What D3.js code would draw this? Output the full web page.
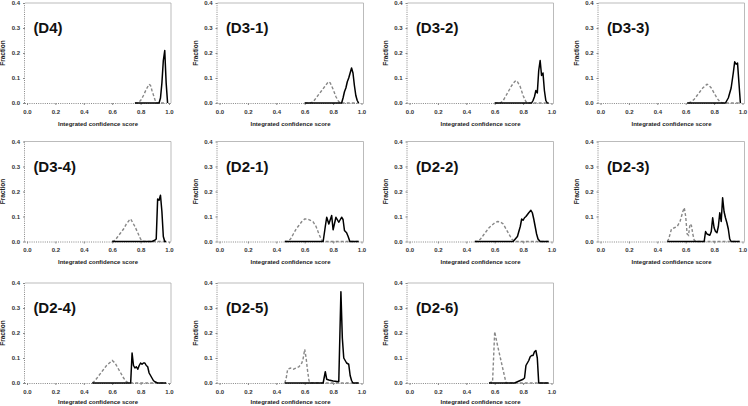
<!DOCTYPE html>
<html><head><meta charset="utf-8">
<script src="https://cdn.jsdelivr.net/npm/d3@7"></script>
<style>body{margin:0;background:#fff}svg{display:block}</style>
</head><body>
<svg id="c" width="748" height="406"></svg>
<script>
// ---- data ----
const panelNames = ["(D4)","(D3-1)","(D3-2)","(D3-3)","(D3-4)","(D2-1)","(D2-2)","(D2-3)","(D2-4)","(D2-5)","(D2-6)"];
const xTicks = [0.0,0.2,0.4,0.6,0.8,1.0];
const yTicks = [0.0,0.1,0.2,0.3,0.4];
const xTitle = "Integrated confidence score";
const yTitle = "Fraction";

const d4_dashed = [[0.76,0],[0.78,0],[0.80,0.01],[0.82,0.03],[0.84,0.055],[0.86,0.075],[0.87,0.07],[0.88,0.05],[0.90,0.015],[0.91,0],[0.98,0]];
const d4_solid  = [[0.76,0],[0.93,0],[0.94,0.02],[0.95,0.08],[0.96,0.17],[0.97,0.21],[0.98,0.08],[0.99,0]];

const d31_dashed = [[0.60,0],[0.64,0],[0.66,0.005],[0.68,0.02],[0.70,0.035],[0.72,0.05],[0.74,0.065],[0.76,0.08],[0.77,0.085],[0.78,0.08],[0.80,0.055],[0.82,0.025],[0.84,0.005],[0.86,0],[0.98,0]];
const d31_solid  = [[0.60,0],[0.86,0],[0.87,0.02],[0.88,0.045],[0.89,0.06],[0.90,0.085],[0.91,0.1],[0.92,0.12],[0.93,0.14],[0.94,0.12],[0.95,0.07],[0.96,0.03],[0.97,0.01],[0.98,0]];

const d32_dashed = [[0.60,0],[0.64,0],[0.66,0.01],[0.68,0.03],[0.70,0.05],[0.72,0.07],[0.74,0.085],[0.75,0.09],[0.76,0.085],[0.78,0.065],[0.80,0.03],[0.82,0.005],[0.84,0],[0.98,0]];
const d32_solid  = [[0.60,0],[0.86,0],[0.87,0.01],[0.88,0.025],[0.89,0.05],[0.90,0.04],[0.91,0.13],[0.92,0.17],[0.93,0.11],[0.94,0.12],[0.95,0.05],[0.96,0.01],[0.97,0],[0.98,0]];

const d33_dashed = [[0.62,0],[0.64,0.005],[0.66,0.015],[0.68,0.03],[0.70,0.045],[0.72,0.06],[0.74,0.07],[0.75,0.075],[0.76,0.073],[0.78,0.06],[0.80,0.04],[0.82,0.02],[0.84,0.005],[0.86,0],[0.98,0]];
const d33_solid  = [[0.61,0],[0.88,0],[0.90,0.02],[0.92,0.06],[0.935,0.12],[0.945,0.165],[0.955,0.155],[0.965,0.16],[0.975,0.08],[0.985,0]];

const d34_dashed = [[0.60,0],[0.62,0.005],[0.64,0.02],[0.66,0.035],[0.68,0.05],[0.70,0.07],[0.72,0.085],[0.73,0.09],[0.74,0.08],[0.76,0.06],[0.78,0.035],[0.80,0.01],[0.82,0],[0.98,0]];
const d34_solid  = [[0.60,0],[0.88,0],[0.90,0.005],[0.91,0.01],[0.92,0.17],[0.93,0.165],[0.94,0.185],[0.95,0.12],[0.96,0.02],[0.97,0],[0.98,0]];

const d21_dashed = [[0.46,0],[0.48,0],[0.50,0.01],[0.52,0.03],[0.54,0.05],[0.56,0.065],[0.58,0.08],[0.60,0.09],[0.62,0.09],[0.64,0.085],[0.66,0.078],[0.68,0.06],[0.70,0.03],[0.72,0.005],[0.74,0],[0.98,0]];
const d21_solid  = [[0.46,0],[0.73,0],[0.745,0.06],[0.755,0.097],[0.77,0.07],[0.79,0.104],[0.80,0.047],[0.82,0.097],[0.84,0.077],[0.86,0.097],[0.87,0.088],[0.88,0.044],[0.895,0.035],[0.906,0.02],[0.918,0],[0.98,0]];

const d22_dashed = [[0.46,0],[0.48,0],[0.50,0.01],[0.52,0.025],[0.54,0.04],[0.56,0.055],[0.58,0.065],[0.60,0.075],[0.62,0.08],[0.64,0.078],[0.66,0.07],[0.68,0.05],[0.70,0.03],[0.72,0.01],[0.74,0],[0.98,0]];
const d22_solid  = [[0.46,0],[0.73,0],[0.745,0.01],[0.76,0.02],[0.78,0.06],[0.79,0.09],[0.80,0.085],[0.81,0.095],[0.82,0.1],[0.84,0.115],[0.855,0.125],[0.865,0.115],[0.875,0.09],[0.885,0.06],[0.895,0.03],[0.905,0.01],[0.92,0],[0.98,0]];

const d23_dashed = [[0.47,0],[0.48,0.01],[0.49,0.03],[0.50,0.05],[0.52,0.055],[0.54,0.06],[0.56,0.08],[0.57,0.1],[0.58,0.12],[0.59,0.135],[0.60,0.1],[0.61,0.03],[0.62,0.025],[0.63,0.07],[0.64,0.065],[0.65,0.03],[0.66,0.005],[0.68,0],[0.98,0]];
const d23_solid  = [[0.47,0],[0.73,0],[0.74,0.04],[0.75,0.03],[0.77,0.025],[0.78,0.04],[0.79,0.095],[0.80,0.055],[0.81,0.04],[0.82,0.035],[0.83,0.06],[0.84,0.115],[0.85,0.08],[0.86,0.175],[0.87,0.12],[0.88,0.095],[0.89,0.075],[0.90,0.05],[0.91,0.01],[0.92,0],[0.98,0]];

const d24_dashed = [[0.46,0],[0.48,0.01],[0.50,0.025],[0.52,0.04],[0.54,0.055],[0.56,0.07],[0.58,0.08],[0.60,0.09],[0.62,0.08],[0.64,0.06],[0.66,0.04],[0.68,0.02],[0.70,0.005],[0.72,0],[0.98,0]];
const d24_solid  = [[0.46,0],[0.73,0],[0.74,0.12],[0.75,0.07],[0.76,0.06],[0.77,0.065],[0.78,0.055],[0.79,0.07],[0.80,0.08],[0.81,0.075],[0.82,0.08],[0.83,0.08],[0.84,0.07],[0.85,0.065],[0.86,0.04],[0.87,0.03],[0.88,0.02],[0.89,0.01],[0.90,0.005],[0.92,0],[0.98,0]];

const d25_dashed = [[0.46,0],[0.47,0.02],[0.48,0.055],[0.50,0.06],[0.52,0.055],[0.54,0.06],[0.56,0.065],[0.58,0.08],[0.59,0.1],[0.60,0.135],[0.61,0.1],[0.62,0.05],[0.63,0.01],[0.64,0],[0.98,0]];
const d25_solid  = [[0.46,0],[0.73,0],[0.745,0.045],[0.755,0.015],[0.77,0.012],[0.80,0.008],[0.84,0.005],[0.855,0.365],[0.865,0.18],[0.875,0.1],[0.885,0.09],[0.895,0.08],[0.91,0.075],[0.92,0.03],[0.93,0.01],[0.94,0],[0.98,0]];

const d26_dashed = [[0.56,0],[0.585,0.005],[0.60,0.205],[0.62,0.15],[0.64,0.1],[0.66,0.05],[0.68,0],[0.98,0]];
const d26_solid  = [[0.56,0],[0.74,0],[0.76,0.005],[0.78,0.01],[0.80,0.015],[0.81,0.02],[0.82,0.07],[0.84,0.09],[0.85,0.105],[0.86,0.11],[0.87,0.11],[0.88,0.125],[0.89,0.13],[0.90,0.1],[0.91,0],[0.98,0]];

const dashedSeries = [d4_dashed,d31_dashed,d32_dashed,d33_dashed,d34_dashed,d21_dashed,d22_dashed,d23_dashed,d24_dashed,d25_dashed,d26_dashed];
const solidSeries  = [d4_solid,d31_solid,d32_solid,d33_solid,d34_solid,d21_solid,d22_solid,d23_solid,d24_solid,d25_solid,d26_solid];

// ---- layout ----
const colX = [25, 217.5, 407.5, 598.5];
const rowY0 = [103, 241.5, 383];
const titleOff = [23, 22.5, 21];
const plotW = 146, plotH = 100;
const font = "Arial, 'Liberation Sans', sans-serif";

const svg = d3.select("#c");
panelNames.forEach((name, i) => {
  const c = i % 4, r = Math.floor(i / 4);
  const ax = colX[c], by = rowY0[r];
  const g = svg.append("g");
  const x = d3.scaleLinear().domain([0,1]).range([ax + 2, ax + 144]);
  const y = d3.scaleLinear().domain([0,0.4]).range([by, by - plotH]);

  // frame top & right
  g.append("path").attr("d", `M${ax},${by-plotH}H${ax+plotW}V${by}`)
    .attr("fill","none").attr("stroke","#aaa").attr("stroke-width",0.8);

  // x axis
  const xa = g.append("g").attr("transform",`translate(0,${by})`)
    .call(d3.axisBottom(x).tickValues(xTicks).tickFormat(d3.format(".1f")).tickSize(2).tickPadding(4.5));
  xa.select(".domain").attr("d",`M${ax},0.5H${ax+plotW}`).attr("stroke","#888").attr("stroke-dasharray","1,1.2");
  xa.selectAll(".tick line").attr("stroke","#888");
  xa.selectAll("text").attr("font-family",font).attr("font-size",6).attr("font-weight","bold").attr("fill","#333");

  // y axis
  const ya = g.append("g").attr("transform",`translate(${ax},0)`)
    .call(d3.axisLeft(y).tickValues(yTicks).tickFormat(d3.format(".1f")).tickSize(2).tickPadding(3));
  ya.select(".domain").attr("d",`M-0.5,${by}V${by-plotH}`).attr("stroke","#888").attr("stroke-dasharray","1,1.2");
  ya.selectAll(".tick line").attr("stroke","#888");
  ya.selectAll("text").attr("font-family",font).attr("font-size",6).attr("font-weight","bold").attr("fill","#333");

  // titles
  g.append("text").attr("x",(x(0)+x(1))/2).attr("y",by+titleOff[r]).attr("text-anchor","middle")
    .attr("font-family",font).attr("font-size",6).attr("font-weight","bold").attr("fill","#222").text(xTitle);
  g.append("text").attr("transform",`translate(${ax-20},${by-plotH/2}) rotate(-90)`).attr("text-anchor","middle")
    .attr("font-family",font).attr("font-size",6.5).attr("font-weight","bold").attr("fill","#222").text(yTitle);

  // panel label
  g.append("text").attr("x",x(0.045)).attr("y",y(0.3)+5)
    .attr("font-family",font).attr("font-size",15).attr("font-weight","bold").attr("fill","#111").text(name);

  const line = d3.line().x(d => x(d[0])).y(d => y(d[1]));
  g.append("path").datum(dashedSeries[i]).attr("d",line).attr("fill","none")
    .attr("stroke","#888").attr("stroke-width",1.4).attr("stroke-dasharray","3,2");
  g.append("path").datum(solidSeries[i]).attr("d",line).attr("fill","none")
    .attr("stroke","#000").attr("stroke-width",1.5).attr("stroke-linejoin","round");
});
</script>
</body></html>
